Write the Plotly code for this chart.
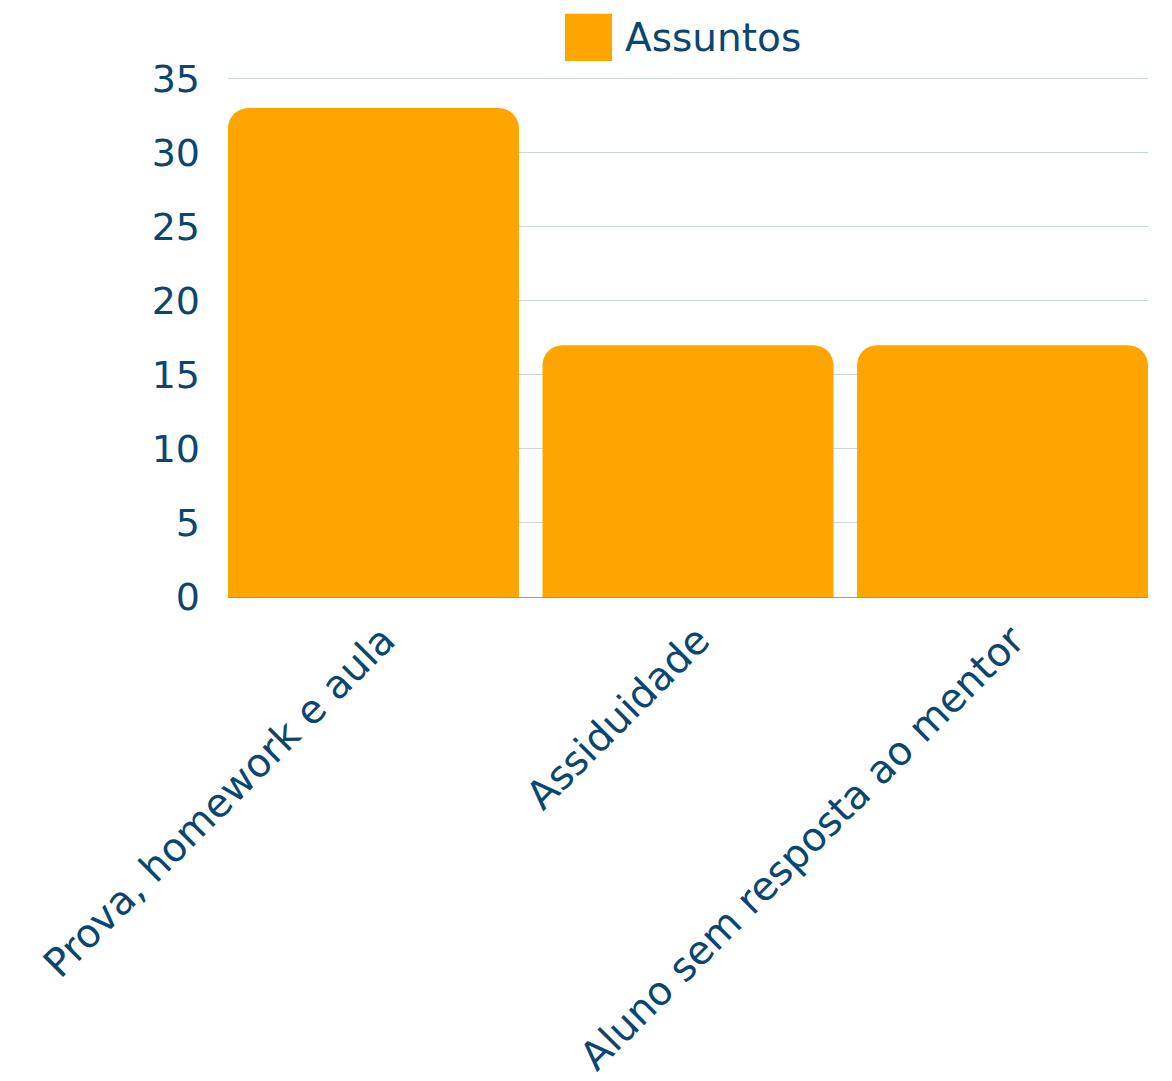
import plotly.graph_objects as go

categories = ["Prova, homework e aula", "Assiduidade", "Aluno sem resposta ao mentor"]
values = [33, 17, 17]
series_name = "Assuntos"
y_ticks = [0, 5, 10, 15, 20, 25, 30, 35]

TXT = "#0b4670"
BAR = "#FFA500"
FONT = "DejaVu Sans"
FS = 38

fig = go.Figure()
fig.add_trace(go.Bar(
    x=categories, y=values, name=series_name,
    marker=dict(color=BAR, cornerradius=20, line=dict(width=0)),
    showlegend=False,
))

# legend imitation (big swatch + label)
fig.add_shape(type="rect", xref="paper", yref="paper",
              x0=0.3663, x1=0.4174, y0=1.0308, y1=1.1214,
              fillcolor=BAR, line=dict(width=0))
fig.add_annotation(text=series_name, xref="paper", yref="paper",
                   x=0.4293, y=1.0761, xanchor="left", yanchor="middle",
                   showarrow=False, font=dict(family=FONT, size=39, color=TXT))

fig.update_layout(
    width=1164, height=1073,
    margin=dict(l=220, r=24, t=68.5, b=484, autoexpand=False),
    paper_bgcolor="white", plot_bgcolor="white",
    bargap=0.075,
    font=dict(family=FONT, size=FS, color=TXT),
    xaxis=dict(range=[-0.4625, 2.4625], tickangle=-45, showgrid=False,
               ticks="", tickfont=dict(size=39.5, color=TXT), ticklabelstandoff=11,
               ticklabelshift=10, showline=False, zeroline=False),
    yaxis=dict(range=[0, 35.1], tickvals=y_ticks, showgrid=True,
               gridcolor="#c9d7e3", gridwidth=1, zeroline=True,
               zerolinecolor="#7f9fbb", zerolinewidth=1,
               ticks="", tickfont=dict(size=FS, color=TXT), ticklabelstandoff=27),
)

fig.write_html("out.html")
